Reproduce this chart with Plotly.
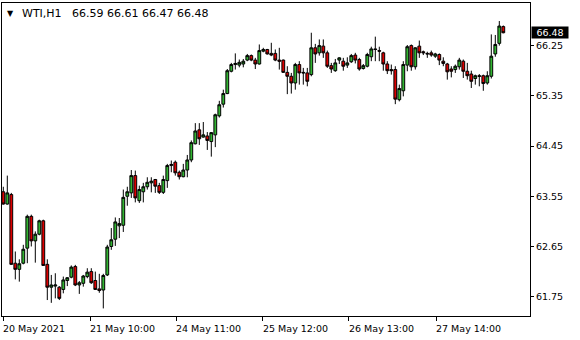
import plotly.graph_objects as go

symbol = "WTI,H1"

opens = [63.63, 63.41, 63.58, 62.35, 62.24, 62.35, 62.62, 63.19, 62.75, 62.87,
         63.11, 62.33, 61.92, 61.94, 61.92, 61.88, 62.04, 62.10, 62.29, 61.96,
         61.99, 62.11, 62.20, 62.04, 61.89, 61.87, 62.14, 62.65, 62.78, 63.02,
         63.03, 63.55, 63.61, 63.92, 63.47, 63.63, 63.72, 63.79, 63.85, 63.74,
         63.62, 63.83, 64.10, 64.16, 63.98, 63.90, 64.02, 64.20, 64.49, 64.74,
         64.61, 64.63, 64.53, 64.65, 64.99, 65.20, 65.39, 65.79, 65.91, 65.90,
         65.92, 65.99, 66.07, 65.99, 65.92, 66.15, 66.18, 66.11, 66.11, 65.99,
         65.99, 65.77, 65.70, 65.58, 65.91, 65.77, 65.76, 65.73, 66.21, 66.12,
         66.24, 66.12, 65.89, 65.80, 65.99, 65.97, 65.90, 65.96, 66.08, 66.00,
         65.84, 65.88, 66.05, 66.19, 66.16, 66.12, 65.92, 65.82, 65.82, 65.28,
         65.44, 65.90, 66.25, 65.87, 66.24, 66.14, 66.11, 66.12, 66.06, 66.09,
         65.97, 65.92, 65.83, 65.82, 65.87, 65.97, 65.79, 65.74, 65.66, 65.71,
         65.71, 65.58, 65.70, 66.10, 66.29, 66.59]
highs = [63.72, 63.92, 63.61, 62.56, 62.42, 62.68, 63.22, 63.22, 62.92, 63.13,
         63.13, 62.42, 62.14, 62.17, 61.94, 62.11, 62.10, 62.31, 62.32, 62.03,
         62.14, 62.26, 62.26, 62.20, 62.16, 62.16, 62.68, 62.98, 63.17, 63.16,
         63.67, 63.72, 64.02, 64.01, 63.74, 63.79, 63.89, 63.89, 63.86, 63.79,
         63.92, 64.13, 64.19, 64.19, 64.01, 64.13, 64.29, 64.55, 64.86, 64.86,
         64.88, 64.70, 64.70, 65.03, 65.26, 65.46, 65.83, 65.94, 66.11, 66.00,
         66.01, 66.10, 66.09, 66.03, 66.27, 66.21, 66.19, 66.30, 66.18, 66.21,
         66.00, 65.88, 65.76, 65.94, 65.97, 65.85, 65.85, 66.48, 66.28, 66.36,
         66.36, 66.16, 65.94, 66.01, 66.04, 66.03, 66.04, 66.10, 66.12, 66.03,
         65.92, 66.12, 66.23, 66.41, 66.23, 66.14, 65.97, 65.91, 65.88, 65.55,
         65.97, 66.26, 66.27, 66.22, 66.34, 66.16, 66.14, 66.16, 66.12, 66.11,
         66.04, 65.94, 65.88, 65.91, 66.03, 66.00, 65.94, 65.80, 65.73, 65.74,
         65.73, 65.79, 66.45, 66.44, 66.69, 66.61]
lows = [63.40, 63.40, 62.32, 62.06, 62.02, 62.33, 62.35, 62.65, 62.36, 62.85,
        62.30, 61.69, 61.64, 61.72, 61.69, 61.81, 61.94, 62.08, 61.94, 61.80,
        61.93, 62.08, 61.98, 61.87, 61.82, 61.54, 62.12, 62.59, 62.66, 62.80,
        62.91, 63.38, 63.52, 63.44, 63.43, 63.44, 63.67, 63.62, 63.61, 63.59,
        63.59, 63.70, 63.98, 63.92, 63.85, 63.89, 63.89, 64.16, 64.48, 64.47,
        64.60, 64.38, 64.26, 64.43, 64.96, 65.14, 65.38, 65.77, 65.82, 65.86,
        65.86, 65.97, 65.97, 65.83, 65.91, 66.13, 66.09, 66.06, 65.97, 65.82,
        65.76, 65.38, 65.39, 65.46, 65.55, 65.55, 65.52, 65.70, 65.94, 66.07,
        66.03, 65.85, 65.76, 65.78, 65.92, 65.80, 65.85, 65.94, 65.93, 65.80,
        65.82, 65.86, 65.97, 65.97, 65.97, 65.80, 65.74, 65.73, 65.20, 65.25,
        65.34, 65.79, 65.80, 65.82, 66.03, 66.08, 66.03, 66.05, 66.03, 65.90,
        65.88, 65.64, 65.68, 65.76, 65.82, 65.67, 65.64, 65.49, 65.55, 65.52,
        65.44, 65.55, 65.66, 66.05, 66.25, 66.47]
closes = [63.41, 63.61, 62.33, 62.24, 62.34, 62.60, 63.19, 62.75, 62.87, 63.11,
          62.31, 61.92, 61.96, 61.96, 61.72, 62.05, 62.09, 62.28, 61.96, 62.00,
          62.12, 62.19, 62.00, 61.88, 61.86, 62.13, 62.64, 62.77, 63.09, 63.06,
          63.53, 63.63, 63.92, 63.52, 63.67, 63.72, 63.80, 63.82, 63.73, 63.62,
          63.85, 64.10, 64.12, 63.97, 63.90, 64.02, 64.20, 64.51, 64.72, 64.58,
          64.65, 64.55, 64.69, 65.01, 65.19, 65.39, 65.80, 65.91, 65.93, 65.95,
          65.97, 66.07, 65.99, 65.92, 66.16, 66.18, 66.10, 66.08, 65.99, 65.97,
          65.77, 65.70, 65.58, 65.91, 65.76, 65.76, 65.61, 66.21, 66.10, 66.25,
          66.12, 65.88, 65.83, 65.94, 66.03, 65.88, 65.94, 66.07, 65.99, 65.83,
          65.89, 66.09, 66.19, 66.18, 66.15, 65.92, 65.80, 65.80, 65.29, 65.48,
          65.91, 66.23, 65.87, 66.21, 66.12, 66.12, 66.10, 66.08, 66.10, 65.99,
          65.93, 65.78, 65.79, 65.88, 65.99, 65.79, 65.71, 65.61, 65.71, 65.70,
          65.57, 65.71, 66.06, 66.27, 66.60, 66.48]

bars = list(range(len(closes)))

price_ticks = [61.75, 62.65, 63.55, 64.45, 65.35, 66.25]
time_tick_pos = [0, 21.7, 43.2, 64.9, 86.4, 108.2]
time_tick_labels = ["20 May 2021", "21 May 10:00", "24 May 11:00",
                    "25 May 12:00", "26 May 13:00", "27 May 14:00"]

FONT = "DejaVu Sans"
GREEN = "#32B432"
RED = "#DC0000"

fig = go.Figure(go.Candlestick(
    x=bars, open=opens, high=highs, low=lows, close=closes,
    increasing=dict(line=dict(color="black", width=1), fillcolor=GREEN),
    decreasing=dict(line=dict(color="black", width=1), fillcolor=RED),
    whiskerwidth=0, hoverinfo="skip",
))

fig.update_layout(
    width=580, height=340,
    margin=dict(l=2, r=50, t=3, b=24),
    paper_bgcolor="white", plot_bgcolor="white",
    showlegend=False, boxgap=0.3, boxgroupgap=0,
    font=dict(family=FONT, size=9.5, color="black"),
    xaxis=dict(
        range=[-0.325, 131.675], rangeslider=dict(visible=False),
        showgrid=False, zeroline=False,
        showline=True, linecolor="black", linewidth=1, mirror=True,
        tickmode="array", tickvals=time_tick_pos,
        ticktext=[""] * len(time_tick_pos),
        ticks="outside", ticklen=4, tickcolor="black", tickwidth=1,
    ),
    yaxis=dict(
        range=[61.404, 67.013], side="right",
        showgrid=False, zeroline=False,
        showline=True, linecolor="black", linewidth=1, mirror=True,
        tickmode="array", tickvals=price_ticks,
        ticktext=[f"{v:.2f}" for v in price_ticks],
        ticks="outside", ticklen=3, tickcolor="black", tickwidth=1,
        tickfont=dict(family=FONT, size=9.5, color="black"),
    ),
)

annotations = []
for pos, lab in zip(time_tick_pos, time_tick_labels):
    annotations.append(dict(
        x=pos, y=0, xref="x", yref="paper", text=lab, showarrow=False,
        xanchor="left", yanchor="middle", xshift=-2, yshift=-12,
        font=dict(family=FONT, size=9.5, color="black"),
    ))

# header
annotations.append(dict(
    x=0, y=1, xref="paper", yref="paper", text="\u25BC", showarrow=False,
    xanchor="left", yanchor="middle", xshift=3, yshift=-10,
    font=dict(family=FONT, size=8, color="black"),
))
annotations.append(dict(
    x=0, y=1, xref="paper", yref="paper", text=symbol, showarrow=False,
    xanchor="left", yanchor="middle", xshift=18, yshift=-10,
    font=dict(family=FONT, size=11, color="black"),
))
annotations.append(dict(
    x=0, y=1, xref="paper", yref="paper",
    text=f"{opens[-1]:.2f} {highs[-1]:.2f} {lows[-1]:.2f} {closes[-1]:.2f}",
    showarrow=False, xanchor="left", yanchor="middle", xshift=68, yshift=-10,
    font=dict(family=FONT, size=11, color="black"),
))
# current price label
annotations.append(dict(
    x=1, y=closes[-1], xref="paper", yref="y", text=f"{closes[-1]:.2f}",
    showarrow=False, xanchor="left", yanchor="middle", xshift=1,
    bgcolor="black", borderpad=0, width=36, height=11, align="center",
    font=dict(family=FONT, size=9.5, color="white"),
))
fig.update_layout(annotations=annotations)

fig.write_html("out.html")
